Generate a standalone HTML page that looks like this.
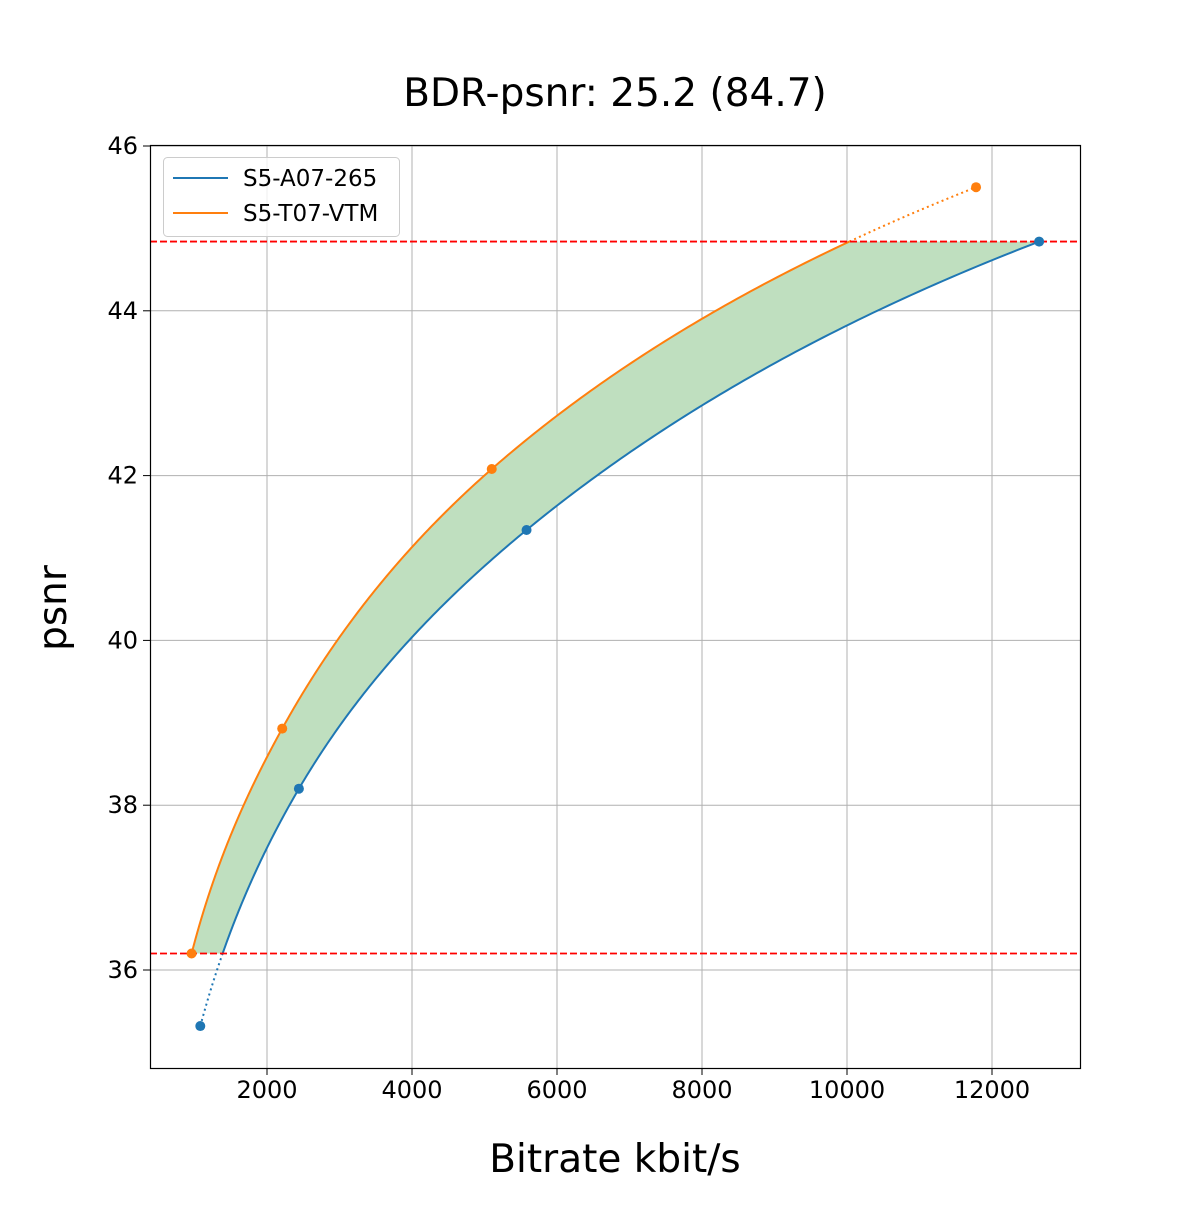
<!DOCTYPE html>
<html><head><meta charset="utf-8"><style>
body{margin:0;background:#fff}
svg text{font-family:"DejaVu Sans","Liberation Sans",sans-serif}
</style></head><body>
<svg id="s" width="1200" height="1200" xmlns="http://www.w3.org/2000/svg">
<rect width="1200" height="1200" fill="#fff"/>
<g id="grid" stroke="#b0b0b0" stroke-width="1"></g>
<g id="plot"></g>
<rect x="150.5" y="145.5" width="930" height="923" fill="none" stroke="#000" stroke-width="1.2"/>
<g id="ticks" font-size="24" fill="#000"></g>
<text x="615" y="106" font-size="39" text-anchor="middle">BDR-psnr: 25.2 (84.7)</text>
<text x="615" y="1172" font-size="39" text-anchor="middle">Bitrate kbit/s</text>
<text transform="translate(66,608) rotate(-90)" font-size="39" text-anchor="middle">psnr</text>
<g>
<rect x="163.5" y="157.5" width="236" height="79" rx="4" fill="#fff" fill-opacity="0.8" stroke="#ccc"/>
<line x1="173" y1="178" x2="228" y2="178" stroke="#1f77b4" stroke-width="2"/>
<text x="243" y="186" font-size="23">S5-A07-265</text>
<line x1="173" y1="213" x2="228" y2="213" stroke="#ff7f0e" stroke-width="2"/>
<text x="243" y="221" font-size="23">S5-T07-VTM</text>
</g>
</svg>
<script>
var NS="http://www.w3.org/2000/svg";
function X(r){return 122+r*0.0725}
function Y(v){return 146+(46-v)*82.4}
function el(p,t,a){var e=document.createElementNS(NS,t);for(var k in a)e.setAttribute(k,a[k]);document.getElementById(p).appendChild(e);return e}
[2000,4000,6000,8000,10000,12000].forEach(function(r){var x=X(r);el("grid","line",{x1:x,x2:x,y1:145,y2:1068});el("ticks","line",{x1:x,x2:x,y1:1068,y2:1075,stroke:"#000"});var t=el("ticks","text",{x:x,y:1098,"text-anchor":"middle"});t.textContent=r});
[36,38,40,42,44,46].forEach(function(v){var y=Y(v);el("grid","line",{x1:150,x2:1080,y1:y,y2:y});el("ticks","line",{x1:143,x2:150,y1:y,y2:y,stroke:"#000"});var t=el("ticks","text",{x:138,y:y+8,"text-anchor":"end"});t.textContent=v});
var blue=[[1080,35.32],[2440,38.2],[5580,41.34],[12650,44.84]];
var orng=[[960,36.2],[2210,38.93],[5100,42.08],[11780,45.5]];
function interp(pts){var xs=pts.map(p=>p[1]),ys=pts.map(p=>Math.log(p[0]));var n=xs.length,d=[],m=[];
for(var i=0;i<n-1;i++)d.push((ys[i+1]-ys[i])/(xs[i+1]-xs[i]));
m[0]=d[0];m[n-1]=d[n-2];for(i=1;i<n-1;i++){m[i]=(d[i-1]*d[i]<=0)?0:2/(1/d[i-1]+1/d[i]);}
return function(v){for(var i=0;i<n-2&&v>xs[i+1];i++);var h=xs[i+1]-xs[i],t=(v-xs[i])/h;
var h00=2*t*t*t-3*t*t+1,h10=t*t*t-2*t*t+t,h01=-2*t*t*t+3*t*t,h11=t*t*t-t*t;
return Math.exp(h00*ys[i]+h10*h*m[i]+h01*ys[i+1]+h11*h*m[i+1]);}}
var fb=interp(blue),fo=interp(orng);
function pts(f,a,b){var s=[];for(var k=0;k<=200;k++){var v=a+(b-a)*k/200;s.push(X(f(v)).toFixed(2)+","+Y(v).toFixed(2));}return s}
var lo=36.2,hi=44.84;
var poly=pts(fo,lo,hi).concat(pts(fb,lo,hi).reverse());
el("plot","polygon",{points:poly.join(" "),fill:"#bfdfbf"});
el("plot","polyline",{points:pts(fb,35.32,lo).join(" "),fill:"none",stroke:"#1f77b4","stroke-width":2,"stroke-dasharray":"2,3.3"});
el("plot","polyline",{points:pts(fb,lo,44.84).join(" "),fill:"none",stroke:"#1f77b4","stroke-width":2});
el("plot","polyline",{points:pts(fo,36.2,hi).join(" "),fill:"none",stroke:"#ff7f0e","stroke-width":2});
el("plot","polyline",{points:pts(fo,hi,45.5).join(" "),fill:"none",stroke:"#ff7f0e","stroke-width":2,"stroke-dasharray":"2,3.3"});
[Y(lo),Y(hi)].forEach(function(y){el("plot","line",{x1:150,x2:1080,y1:y,y2:y,stroke:"#ff0000","stroke-width":1.8,"stroke-dasharray":"7,3"})});
blue.forEach(function(p){el("plot","circle",{cx:X(p[0]),cy:Y(p[1]),r:5,fill:"#1f77b4"})});
orng.forEach(function(p){el("plot","circle",{cx:X(p[0]),cy:Y(p[1]),r:5,fill:"#ff7f0e"})});
</script>
</body></html>
